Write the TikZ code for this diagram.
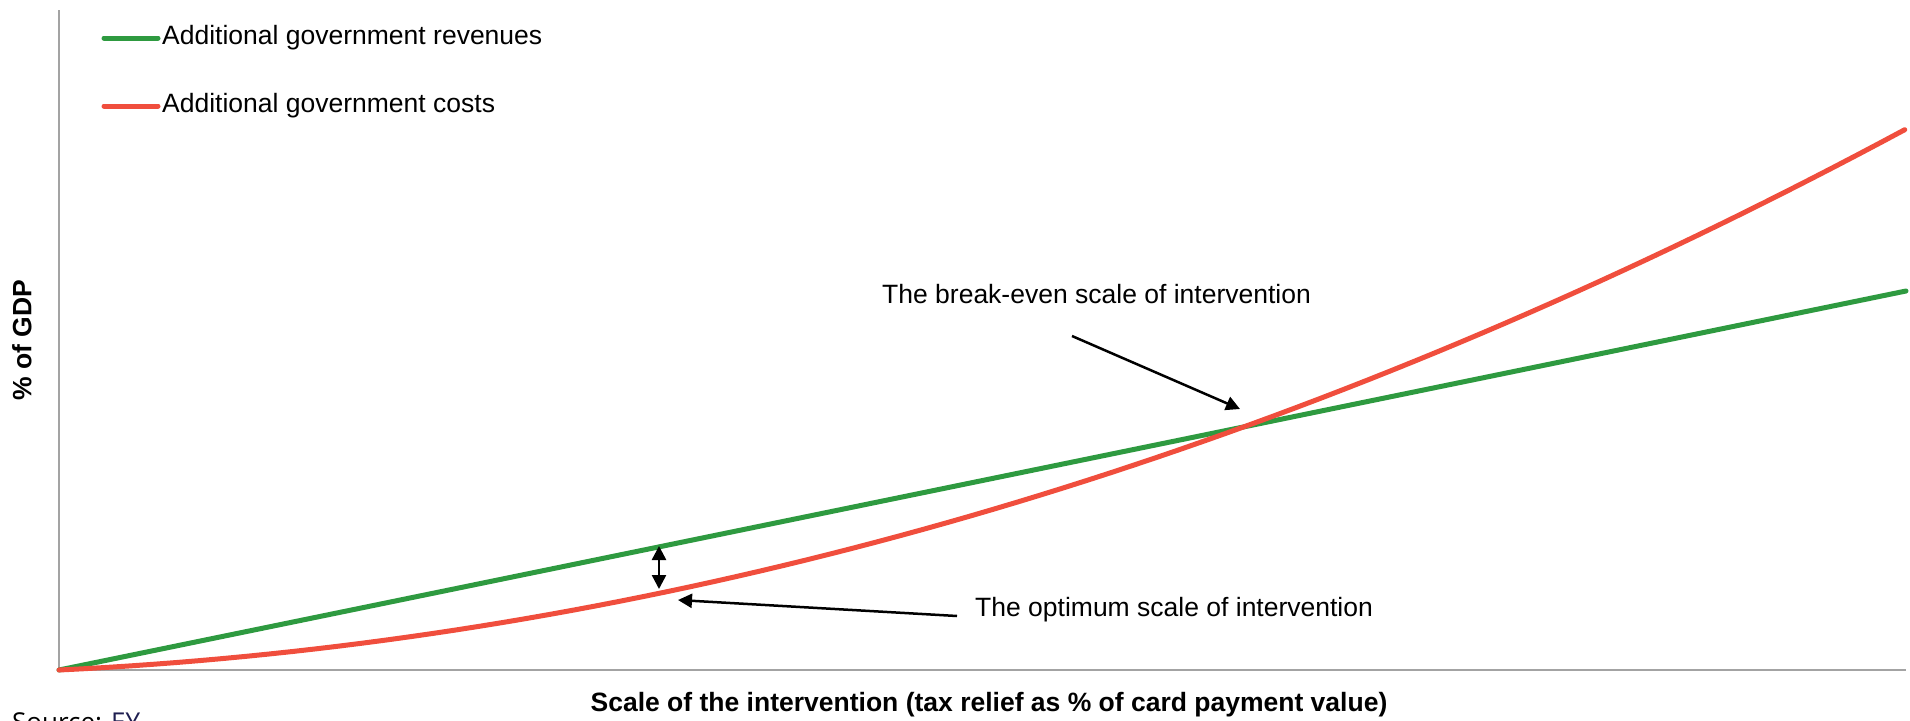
\documentclass[tikz,border=0pt]{standalone}
\usepackage{fontspec}
\setmainfont{Liberation Sans}
\newfontfamily\srcfont{Open Sans}
\usetikzlibrary{arrows.meta}
\definecolor{revgreen}{HTML}{2E9A40}
\definecolor{costred}{HTML}{F04E3D}
\definecolor{axisgrey}{HTML}{A3A3A3}
\definecolor{eynavy}{HTML}{1E1E50}

\begin{document}
\begin{tikzpicture}[x=1pt,y=-1pt,lbl/.style={inner sep=0pt,font=\fontsize{26.5}{32}\selectfont},axlabel/.style={inner sep=0pt,font=\fontsize{26.5}{32}\selectfont\bfseries},curve/.style={line width=5pt,line cap=round},arrow/.style={-{Triangle[length=14pt,width=14pt]},line width=2.5pt,draw=black}]
\clip (0,0) rectangle (1910,720);
\useasboundingbox (0,0) rectangle (1910,720);
% axes
\coordinate (o) at (59,670);
\coordinate (ytop) at (59,10);
\coordinate (xend) at (1906,670);
\draw[axisgrey,line width=2pt] (ytop) -- (o) -- (xend);
% data curves
\draw[curve,revgreen] (o) -- (1906,291);
\draw[curve,costred] plot[domain=0:1,samples=80] ({59+1847*\x},{670-541*(0.165*\x+0.835*\x*\x)});
% legend
\coordinate (g0) at (104,38);
\coordinate (g1) at (158,38);
\coordinate (r0) at (104,106);
\coordinate (r1) at (158,106);
\draw[curve,revgreen] (g0) -- (g1);
\draw[curve,costred] (r0) -- (r1);
\node[lbl,anchor=west] (legrev) at (162,38) {Additional government revenues};
\node[lbl,anchor=west] (legcost) at (162,106) {Additional government costs};
% annotations
\node[lbl,anchor=west] (breakeven) at (882,294) {The break-even scale of intervention};
\node[lbl,anchor=west] (optimum) at (975,610) {The optimum scale of intervention};
\coordinate (beTail) at (1072,336);
\coordinate (beTip) at (1240,409);
\coordinate (opTail) at (957,616);
\coordinate (opTip) at (678,600);
\coordinate (gapTop) at (659,546);
\coordinate (gapBot) at (659,589);
\draw[arrow] (beTail) -- (beTip);
\draw[arrow] (opTail) -- (opTip);
\draw[arrow,{Triangle[length=14pt,width=14pt]}-{Triangle[length=14pt,width=14pt]}] (gapTop) -- (gapBot);
% axis titles
\node[axlabel,rotate=90] (ytitle) at (22,340) {\% of GDP};
\node[axlabel] (xtitle) at (989,705) {Scale of the intervention (tax relief as \% of card payment value)};
\node[anchor=base west,inner sep=0pt,font=\srcfont\fontsize{26}{30}\selectfont] (source) at (12,731) {Source: \textcolor{eynavy}{EY}};
\end{tikzpicture}
\end{document}
